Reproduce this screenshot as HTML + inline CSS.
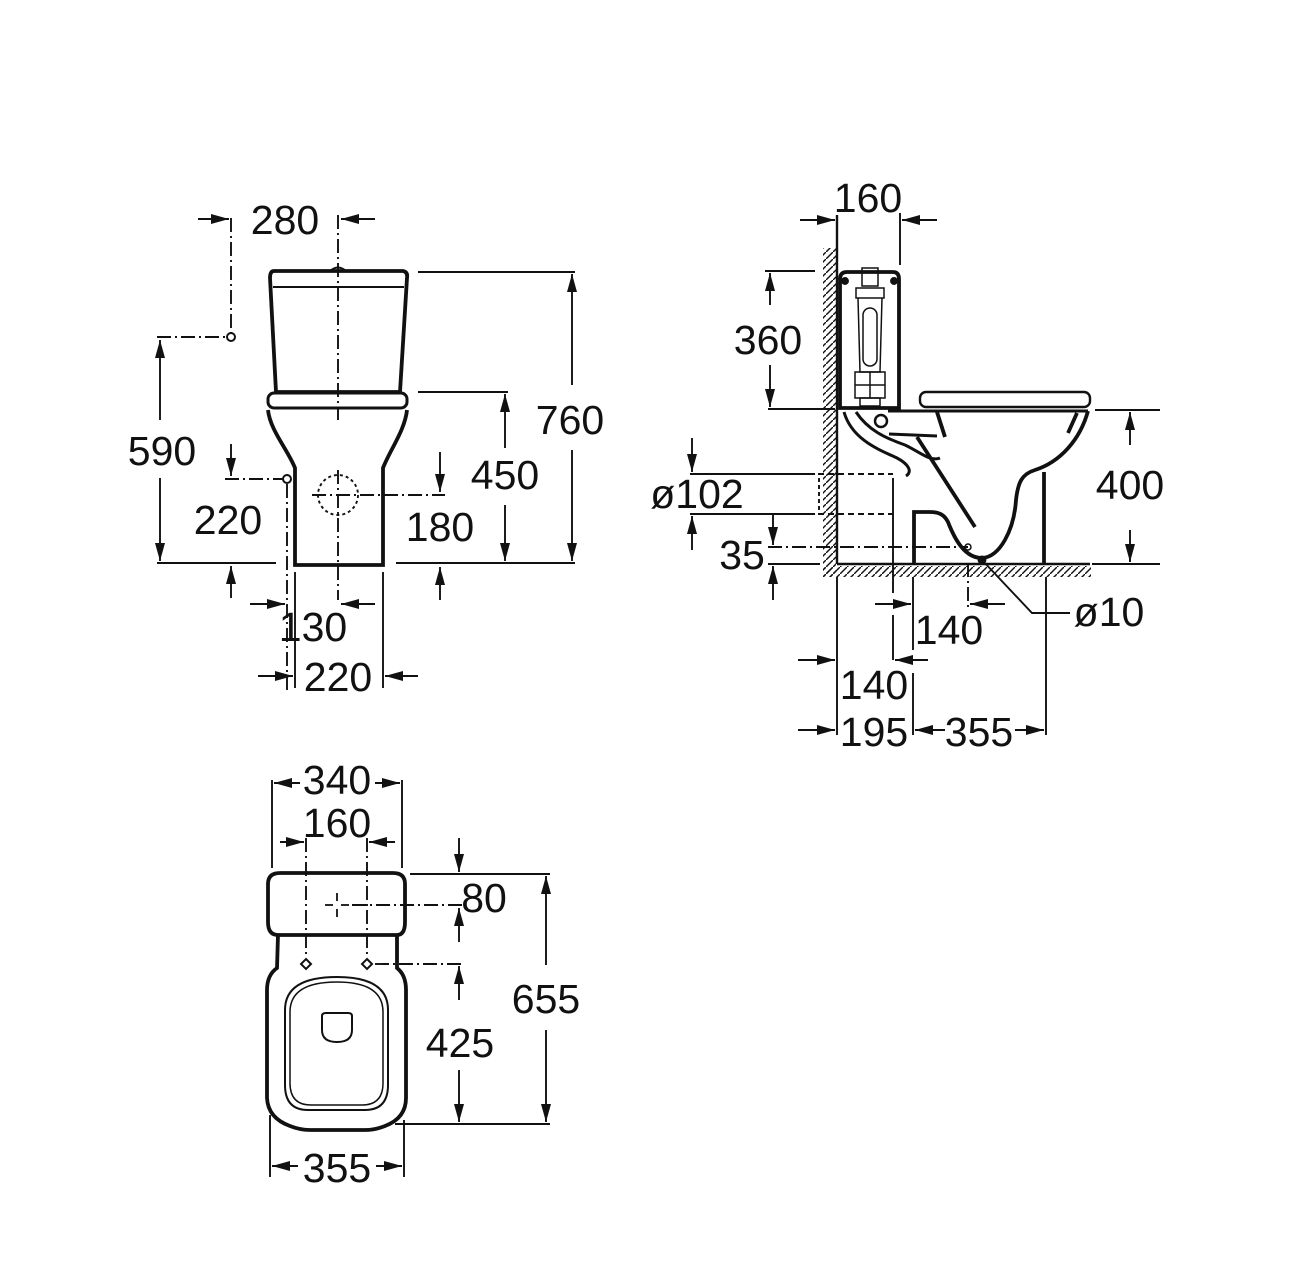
<!DOCTYPE html>
<html><head><meta charset="utf-8"><style>
html,body{margin:0;padding:0;background:#fff;}
svg{display:block;}
text{font-family:"Liberation Sans",Arial,sans-serif;font-size:41px;fill:#111;}
</style></head><body>
<svg width="1300" height="1280" viewBox="0 0 1300 1280" xmlns="http://www.w3.org/2000/svg">
<defs>
<marker id="a" viewBox="0 0 18 10" refX="18" refY="5" markerWidth="18" markerHeight="10" orient="auto" markerUnits="userSpaceOnUse"><path d="M0,0 L18,5 L0,10 z" fill="#111"/></marker>
<pattern id="h" patternUnits="userSpaceOnUse" width="7" height="7"><path d="M-1,8 L8,-1" stroke="#111" stroke-width="1.4"/></pattern>
</defs>
<g stroke="#111" fill="none" stroke-width="1.9">

<!-- ============ FRONT VIEW ============ -->
<path d="M274,271 L403,271 Q408,272 407,278 L400,392 L276,392 L270,278 Q270,271 274,271 Z" stroke-width="3.8"/>
<line x1="273" y1="287" x2="404" y2="287" stroke-width="2"/>
<path d="M330,271 Q338,264 346,271" stroke-width="2"/>
<rect x="268" y="393" width="139" height="15" rx="6" stroke-width="3"/>
<path d="M268,410 C270,430 288,450 295,468 L295,565 L383,565 L383,468 C390,450 405,430 407,410" stroke-width="3.8"/>
<line x1="338" y1="215" x2="338" y2="420" stroke-dasharray="14 4 2 4"/>
<line x1="338" y1="470" x2="338" y2="600" stroke-dasharray="14 4 2 4"/>
<circle cx="338" cy="495" r="20" stroke-dasharray="3 3"/>
<line x1="312" y1="495" x2="445" y2="495" stroke-dasharray="14 4 2 4"/>
<line x1="231" y1="218" x2="231" y2="334" stroke-dasharray="14 4 2 4"/>
<line x1="157" y1="337" x2="227" y2="337" stroke-dasharray="14 4 2 4"/>
<circle cx="231" cy="337" r="4" stroke-width="2"/>
<line x1="198" y1="219" x2="229" y2="219" marker-end="url(#a)"/>
<line x1="375" y1="219" x2="341" y2="219" marker-end="url(#a)"/>
<line x1="160" y1="420" x2="160" y2="340" marker-end="url(#a)"/>
<line x1="160" y1="478" x2="160" y2="561" marker-end="url(#a)"/>
<line x1="157" y1="563" x2="276" y2="563"/>
<line x1="225" y1="479" x2="283" y2="479" stroke-dasharray="14 4 2 4"/>
<circle cx="287" cy="479" r="4" stroke-width="2"/>
<line x1="287" y1="484" x2="287" y2="690" stroke-dasharray="14 4 2 4"/>
<line x1="231" y1="444" x2="231" y2="476" marker-end="url(#a)"/>
<line x1="231" y1="598" x2="231" y2="566" marker-end="url(#a)"/>
<line x1="440" y1="452" x2="440" y2="492" marker-end="url(#a)"/>
<line x1="440" y1="600" x2="440" y2="567" marker-end="url(#a)"/>
<line x1="396" y1="563" x2="575" y2="563"/>
<line x1="418" y1="392" x2="508" y2="392"/>
<line x1="505" y1="448" x2="505" y2="394" marker-end="url(#a)"/>
<line x1="505" y1="505" x2="505" y2="561" marker-end="url(#a)"/>
<line x1="418" y1="272" x2="575" y2="272"/>
<line x1="572" y1="385" x2="572" y2="274" marker-end="url(#a)"/>
<line x1="572" y1="450" x2="572" y2="561" marker-end="url(#a)"/>
<line x1="295" y1="572" x2="295" y2="688"/>
<line x1="383" y1="572" x2="383" y2="688"/>
<line x1="250" y1="604" x2="285" y2="604" marker-end="url(#a)"/>
<line x1="375" y1="604" x2="341" y2="604" marker-end="url(#a)"/>
<line x1="258" y1="676" x2="293" y2="676" marker-end="url(#a)"/>
<line x1="418" y1="676" x2="385" y2="676" marker-end="url(#a)"/>

<!-- ============ SIDE VIEW ============ -->
<rect x="823" y="248" width="13" height="329" fill="url(#h)" stroke="none"/>
<rect x="823" y="566" width="268" height="11" fill="url(#h)" stroke="none"/>
<line x1="837" y1="215" x2="837" y2="564" stroke-width="2.4"/>
<line x1="837" y1="564" x2="1090" y2="564" stroke-width="2.4"/>
<path d="M840,408 L840,279 Q840,272 847,272 L893,272 Q899,272 899,279 L899,408 Z" stroke-width="3.8"/>
<circle cx="845" cy="281" r="3" fill="#111"/><circle cx="894" cy="281" r="3" fill="#111"/>
<rect x="862" y="268" width="16" height="18" stroke-width="1.5"/>
<rect x="856" y="288" width="28" height="10" stroke-width="1.5"/>
<path d="M858,298 L860,372 L880,372 L882,298" stroke-width="1.5"/>
<rect x="863" y="308" width="14" height="58" rx="7" stroke-width="1.5"/>
<rect x="855" y="372" width="30" height="26" stroke-width="1.5"/>
<line x1="855" y1="385" x2="885" y2="385" stroke-width="1.5"/>
<line x1="870" y1="372" x2="870" y2="398" stroke-width="1.5"/>
<rect x="860" y="398" width="20" height="8" stroke-width="1.5"/>
<rect x="920" y="392" width="170" height="15" rx="6" stroke-width="2.4"/>
<line x1="888" y1="411" x2="1088" y2="411" stroke-width="3"/>
<path d="M844,412 C852,440 880,450 897,458 C910,465 912,472 906,476" stroke-width="3"/>
<path d="M856,412 C868,430 885,438 905,445 C920,452 930,462 940,458" stroke-width="3"/>
<circle cx="881" cy="421" r="6" stroke-width="2.5"/>
<line x1="889" y1="434" x2="937" y2="436" stroke-width="3"/>
<path d="M917,437 L975,527" stroke-width="3.8"/>
<path d="M937,412 L945,437" stroke-width="3.8"/>
<path d="M1088,411 C1080,440 1060,462 1035,470 C1022,474 1018,482 1016,500 C1014,530 1000,557 982,558 C965,558 955,540 948,522 C944,514 938,512 930,512 L914,512 L914,564" stroke-width="3.8"/>
<line x1="1044" y1="472" x2="1044" y2="564" stroke-width="3.8"/>
<line x1="1077" y1="413" x2="1068" y2="433" stroke-width="3.8"/>
<line x1="690" y1="474" x2="815" y2="474"/>
<line x1="690" y1="514" x2="815" y2="514"/>
<line x1="818" y1="474" x2="893" y2="474" stroke-dasharray="6 4"/>
<line x1="818" y1="514" x2="893" y2="514" stroke-dasharray="6 4"/>
<line x1="819" y1="478" x2="819" y2="510" stroke-dasharray="4 3"/>
<line x1="893" y1="478" x2="893" y2="593"/>
<line x1="893" y1="615" x2="893" y2="660"/>
<line x1="692" y1="438" x2="692" y2="472" marker-end="url(#a)"/>
<line x1="692" y1="550" x2="692" y2="516" marker-end="url(#a)"/>
<line x1="768" y1="547" x2="968" y2="547" stroke-dasharray="14 4 2 4"/>
<circle cx="968" cy="547" r="3" stroke-width="1.5"/>
<line x1="768" y1="564" x2="820" y2="564"/>
<line x1="773" y1="514" x2="773" y2="545" marker-end="url(#a)"/>
<line x1="773" y1="600" x2="773" y2="566" marker-end="url(#a)"/>
<line x1="900" y1="213" x2="900" y2="265"/>
<line x1="800" y1="220" x2="835" y2="220" marker-end="url(#a)"/>
<line x1="937" y1="220" x2="902" y2="220" marker-end="url(#a)"/>
<line x1="765" y1="271" x2="815" y2="271"/>
<line x1="768" y1="409" x2="835" y2="409"/>
<line x1="770" y1="305" x2="770" y2="273" marker-end="url(#a)"/>
<line x1="770" y1="365" x2="770" y2="407" marker-end="url(#a)"/>
<line x1="1095" y1="410" x2="1160" y2="410"/>
<line x1="1092" y1="564" x2="1160" y2="564"/>
<line x1="1130" y1="445" x2="1130" y2="412" marker-end="url(#a)"/>
<line x1="1130" y1="530" x2="1130" y2="562" marker-end="url(#a)"/>
<line x1="837" y1="577" x2="837" y2="735"/>
<line x1="913" y1="577" x2="913" y2="650"/>
<line x1="913" y1="673" x2="913" y2="735"/>
<line x1="968" y1="563" x2="968" y2="608" stroke-dasharray="14 4 2 4"/>
<line x1="1046" y1="577" x2="1046" y2="735"/>
<line x1="875" y1="604" x2="911" y2="604" marker-end="url(#a)"/>
<line x1="1005" y1="604" x2="970" y2="604" marker-end="url(#a)"/>
<line x1="798" y1="660" x2="835" y2="660" marker-end="url(#a)"/>
<line x1="928" y1="660" x2="895" y2="660" marker-end="url(#a)"/>
<line x1="798" y1="730" x2="835" y2="730" marker-end="url(#a)"/>
<line x1="945" y1="730" x2="915" y2="730" marker-end="url(#a)"/>
<line x1="1015" y1="730" x2="1044" y2="730" marker-end="url(#a)"/>
<circle cx="982" cy="560" r="3.5" fill="#111"/>
<polyline points="982,560 1032,613 1070,613"/>

<!-- ============ TOP VIEW ============ -->
<path d="M278,935 Q268,935 268,922 L268,884 Q268,873 280,873 L393,873 Q405,873 405,884 L405,922 Q405,935 397,935 Z" stroke-width="3.8"/>
<path d="M278,935 L277,968 Q267,975 267,990 L267,1098 Q268,1118 290,1126 Q300,1130 310,1130 L365,1130 Q375,1130 385,1126 Q406,1118 406,1098 L406,990 Q406,975 397,968 L397,935" stroke-width="3.8"/>
<path d="M285,1010 Q285,977 337,977 Q388,977 388,1010 L388,1085 Q388,1110 365,1110 L308,1110 Q285,1110 285,1085 Z" stroke-width="2"/>
<path d="M290,1012 Q290,982 337,982 Q383,982 383,1012 L383,1083 Q383,1105 362,1105 L311,1105 Q290,1105 290,1083 Z" stroke-width="1.5"/>
<path d="M322,1016 Q322,1013 326,1013 L348,1013 Q352,1013 352,1016 L352,1030 Q352,1042 337,1042 Q322,1042 322,1030 Z" stroke-width="2"/>
<g stroke-width="1.8">
<line x1="337" y1="893" x2="337" y2="901"/><line x1="337" y1="909" x2="337" y2="917"/>
<line x1="325" y1="905" x2="333" y2="905"/><line x1="341" y1="905" x2="349" y2="905"/>
</g>
<line x1="352" y1="905" x2="462" y2="905" stroke-dasharray="14 4 2 4"/>
<line x1="306" y1="838" x2="306" y2="958" stroke-dasharray="14 4 2 4"/>
<line x1="367" y1="838" x2="367" y2="958" stroke-dasharray="14 4 2 4"/>
<path d="M306,959 L311,964 L306,969 L301,964 Z" stroke-width="2"/>
<path d="M367,959 L372,964 L367,969 L362,964 Z" stroke-width="2"/>
<line x1="375" y1="964" x2="462" y2="964" stroke-dasharray="14 4 2 4"/>
<line x1="272" y1="780" x2="272" y2="868"/>
<line x1="402" y1="780" x2="402" y2="868"/>
<line x1="300" y1="783" x2="274" y2="783" marker-end="url(#a)"/>
<line x1="375" y1="783" x2="400" y2="783" marker-end="url(#a)"/>
<line x1="280" y1="842" x2="304" y2="842" marker-end="url(#a)"/>
<line x1="395" y1="842" x2="369" y2="842" marker-end="url(#a)"/>
<line x1="410" y1="874" x2="550" y2="874"/>
<line x1="459" y1="838" x2="459" y2="872" marker-end="url(#a)"/>
<line x1="459" y1="942" x2="459" y2="908" marker-end="url(#a)"/>
<line x1="459" y1="1000" x2="459" y2="966" marker-end="url(#a)"/>
<line x1="459" y1="1070" x2="459" y2="1122" marker-end="url(#a)"/>
<line x1="546" y1="965" x2="546" y2="876" marker-end="url(#a)"/>
<line x1="546" y1="1030" x2="546" y2="1122" marker-end="url(#a)"/>
<line x1="395" y1="1124" x2="550" y2="1124"/>
<line x1="270" y1="1115" x2="270" y2="1177"/>
<line x1="404" y1="1120" x2="404" y2="1177"/>
<line x1="298" y1="1166" x2="272" y2="1166" marker-end="url(#a)"/>
<line x1="376" y1="1166" x2="402" y2="1166" marker-end="url(#a)"/>
</g>

<g text-anchor="middle">
<text x="285" y="234">280</text>
<text x="162" y="465">590</text>
<text x="228" y="534">220</text>
<text x="440" y="541">180</text>
<text x="505" y="489">450</text>
<text x="570" y="434">760</text>
<text x="313" y="641">130</text>
<text x="338" y="691">220</text>

<text x="868" y="212">160</text>
<text x="768" y="354">360</text>
<text x="697" y="508">ø102</text>
<text x="742" y="569">35</text>
<text x="1130" y="499">400</text>
<text x="949" y="644">140</text>
<text x="874" y="699">140</text>
<text x="1109" y="626">ø10</text>
<text x="874" y="746">195</text>
<text x="979" y="746">355</text>

<text x="337" y="794">340</text>
<text x="337" y="837">160</text>
<text x="484" y="912">80</text>
<text x="460" y="1057">425</text>
<text x="546" y="1013">655</text>
<text x="337" y="1182">355</text>
</g>
</svg>
</body></html>
